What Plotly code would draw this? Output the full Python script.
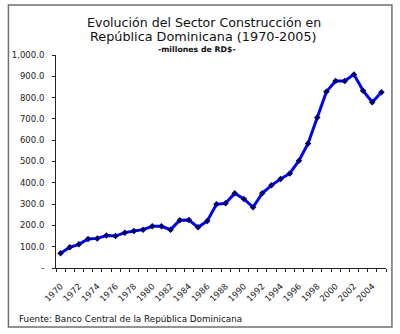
import plotly.graph_objects as go

years = list(range(1970, 2006))
values = [69, 97, 111, 136, 139, 152, 150, 166, 174, 180,
          196, 196, 180, 224, 225, 191, 221, 299, 304, 351,
          324, 285, 351, 388, 418, 444, 504, 585, 706, 828,
          878, 878, 909, 832, 778, 825]

label_years = list(range(1970, 2005, 2))
y_ticks = [0, 100, 200, 300, 400, 500, 600, 700, 800, 900, 1000]
y_labels = ["-", "100.0", "200.0", "300.0", "400.0", "500.0", "600.0",
            "700.0", "800.0", "900.0", "1,000.0"]

title_l1 = "Evolución del Sector Construcción en"
title_l2 = "República Dominicana (1970-2005)"
subtitle = "-millones de RD$-"
source = "Fuente: Banco Central de la República Dominicana"

FONT = "DejaVu Sans"
W, H = 400, 334
L, R, T, B = 53, 14, 55, 66
pw, ph = W - L - R, H - T - B

def px_x(p):
    return (p - L) / pw

def px_y(p):
    return (H - B - p) / ph

fig = go.Figure()
fig.add_trace(go.Scatter(
    x=years, y=values, mode="lines+markers",
    line=dict(color="#0000FF", width=3),
    marker=dict(symbol="diamond", size=5, color="#000066"),
    hoverinfo="skip", showlegend=False,
))

fig.update_layout(
    width=W, height=H,
    margin=dict(l=L, r=R, t=T, b=B),
    paper_bgcolor="white", plot_bgcolor="white",
    font=dict(family=FONT, color="#222222", size=8),
    xaxis=dict(
        range=[1969.5, 2005.5],
        tickmode="array", tickvals=label_years,
        ticktext=[str(y) for y in label_years],
        tickangle=-45, ticks="", ticklen=0,
        ticklabelstandoff=9,
        showline=True, linecolor="#222222", linewidth=1,
        showgrid=False, zeroline=False,
        tickfont=dict(size=8.5, family=FONT, color="#222222"),
        minor=dict(tickmode="array",
                   tickvals=[y - 0.5 for y in years] + [years[-1] + 0.5],
                   ticks="outside", ticklen=3, tickcolor="#222222",
                   tickwidth=1, showgrid=False),
    ),
    yaxis=dict(
        range=[0, 1000],
        tickmode="array", tickvals=y_ticks, ticktext=y_labels,
        ticks="outside", ticklen=3, tickcolor="#222222",
        showline=True, linecolor="#222222", linewidth=1,
        showgrid=False, zeroline=False,
        ticklabelstandoff=6,
        tickfont=dict(size=8.5, family=FONT, color="#222222"),
    ),
    shapes=[dict(type="rect", xref="paper", yref="paper",
                 x0=px_x(5), x1=px_x(392), y0=px_y(327), y1=px_y(5),
                 line=dict(color="#707070", width=1.5), layer="below")],
    annotations=[
        dict(text=title_l1, xref="paper", yref="paper", x=px_x(202), y=px_y(22),
             showarrow=False, xanchor="center", yanchor="middle",
             font=dict(size=12.6, family=FONT, color="#111111")),
        dict(text=title_l2, xref="paper", yref="paper", x=px_x(202), y=px_y(37),
             showarrow=False, xanchor="center", yanchor="middle",
             font=dict(size=12.8, family=FONT, color="#111111")),
        dict(text="<b>" + subtitle + "</b>", xref="paper", yref="paper",
             x=px_x(195), y=px_y(49), showarrow=False,
             xanchor="center", yanchor="middle",
             font=dict(size=7.8, family=FONT, color="#111111")),
        dict(text=source, xref="paper", yref="paper", x=px_x(14), y=px_y(319),
             showarrow=False, xanchor="left", yanchor="middle",
             font=dict(size=8.8, family=FONT, color="#111111")),
    ],
)

fig.write_html("out.html")
